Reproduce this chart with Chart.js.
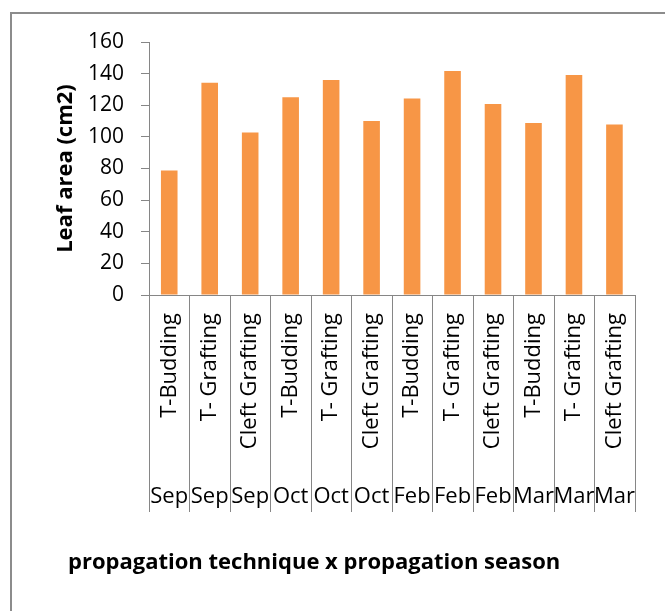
<!DOCTYPE html>
<html>
<head>
<meta charset="utf-8">
<script src="https://cdn.jsdelivr.net/npm/chart.js@4.4.1/dist/chart.umd.min.js"></script>
<style>
  html, body { margin: 0; padding: 0; background: #ffffff; }
  #wrap { width: 665px; height: 611px; }
</style>
</head>
<body>
<div id="wrap"><canvas id="chart" width="665" height="611"></canvas></div>
<script>
// Leaf area by propagation technique and season
const techniques = ['T-Budding', 'T- Grafting', 'Cleft Grafting',
                    'T-Budding', 'T- Grafting', 'Cleft Grafting',
                    'T-Budding', 'T- Grafting', 'Cleft Grafting',
                    'T-Budding', 'T- Grafting', 'Cleft Grafting'];
const seasons = ['Sep', 'Sep', 'Sep', 'Oct', 'Oct', 'Oct',
                 'Feb', 'Feb', 'Feb', 'Mar', 'Mar', 'Mar'];
const leafArea = [78.7, 134.3, 102.7, 125.1, 136.0, 110.1,
                  124.2, 141.7, 120.8, 108.8, 139.2, 107.8];
const yTicks = [0, 20, 40, 60, 80, 100, 120, 140, 160];

const axisGrey = '#868686';
const FONT = '"Open Sans", Lato, sans-serif';

// Outer frame, plus the category separators running through both label rows
const framePlugin = {
  id: 'frame',
  beforeDraw(chart) {
    const ctx = chart.ctx;
    ctx.save();
    ctx.fillStyle = '#ffffff';
    ctx.fillRect(0, 0, chart.width, chart.height);
    ctx.strokeStyle = '#8c8c8c';
    ctx.lineWidth = 2;
    ctx.strokeRect(11, 13, chart.width + 20, chart.height + 20);
    ctx.restore();
  },
  afterDraw(chart) {
    const ctx = chart.ctx;
    const x = chart.scales.x;
    const season = chart.scales.season;
    const n = techniques.length;
    const step = (x.right - x.left) / n;
    const top = x.top;
    const bottom = season.top + 57;
    ctx.save();
    ctx.strokeStyle = axisGrey;
    ctx.lineWidth = 1;
    for (let i = 0; i <= n; i++) {
      const pos = i < n ? x.getPixelForValue(i) - step / 2 : x.getPixelForValue(n - 1) + step / 2;
      const xx = Math.round(pos) + 0.5;
      ctx.beginPath();
      ctx.moveTo(xx, top);
      ctx.lineTo(xx, bottom);
      ctx.stroke();
    }
    ctx.restore();
  }
};

new Chart(document.getElementById('chart'), {
  type: 'bar',
  data: {
    labels: techniques,
    datasets: [{
      label: 'Leaf area (cm2)',
      data: leafArea,
      backgroundColor: '#F79646',
      borderWidth: 0,
      categoryPercentage: 1.0,
      barPercentage: 0.41
    }]
  },
  options: {
    responsive: false,
    animation: false,
    devicePixelRatio: 1,
    layout: { padding: { left: 68, right: 17, top: 42, bottom: 0 } },
    plugins: {
      legend: { display: false },
      tooltip: { enabled: false },
      title: {
        display: true,
        position: 'bottom',
        align: 'start',
        text: 'propagation technique x propagation season',
        color: '#000000',
        font: { family: FONT, size: 22, weight: 'bold' },
        padding: { top: 0, bottom: 35.3 }
      }
    },
    scales: {
      y: {
        min: 0,
        max: 160,
        afterBuildTicks(scale) { scale.ticks = yTicks.map(v => ({ value: v })); },
        afterFit(scale) { scale.width = 81; },
        ticks: {
          color: '#000000',
          font: { family: FONT, size: 21 },
          padding: 17
        },
        grid: {
          display: true,
          drawOnChartArea: false,
          drawTicks: true,
          tickLength: 8,
          color: axisGrey
        },
        border: { display: true, color: axisGrey, width: 1 },
        title: {
          display: true,
          text: 'Leaf area (cm2)',
          color: '#000000',
          font: { family: FONT, size: 22, weight: 'bold' },
          padding: { top: -15.2, bottom: 0 }
        }
      },
      x: {
        type: 'category',
        weight: 0,
        offset: true,
        afterFit(scale) { scale.height = 160; },
        ticks: {
          autoSkip: false,
          minRotation: 90,
          maxRotation: 90,
          color: '#000000',
          font: { family: FONT, size: 22 },
          padding: 18
        },
        grid: { display: false, drawTicks: false },
        border: { display: true, color: axisGrey, width: 1 }
      },
      season: {
        type: 'category',
        position: 'bottom',
        weight: 1,
        offset: true,
        labels: seasons,
        afterFit(scale) { scale.height = 94.3; },
        ticks: {
          autoSkip: false,
          minRotation: 0,
          maxRotation: 0,
          color: '#000000',
          font: { family: FONT, size: 22 },
          padding: 28.8
        },
        grid: { display: false, drawTicks: false },
        border: { display: false }
      }
    }
  },
  plugins: [framePlugin]
});
</script>
</body>
</html>
